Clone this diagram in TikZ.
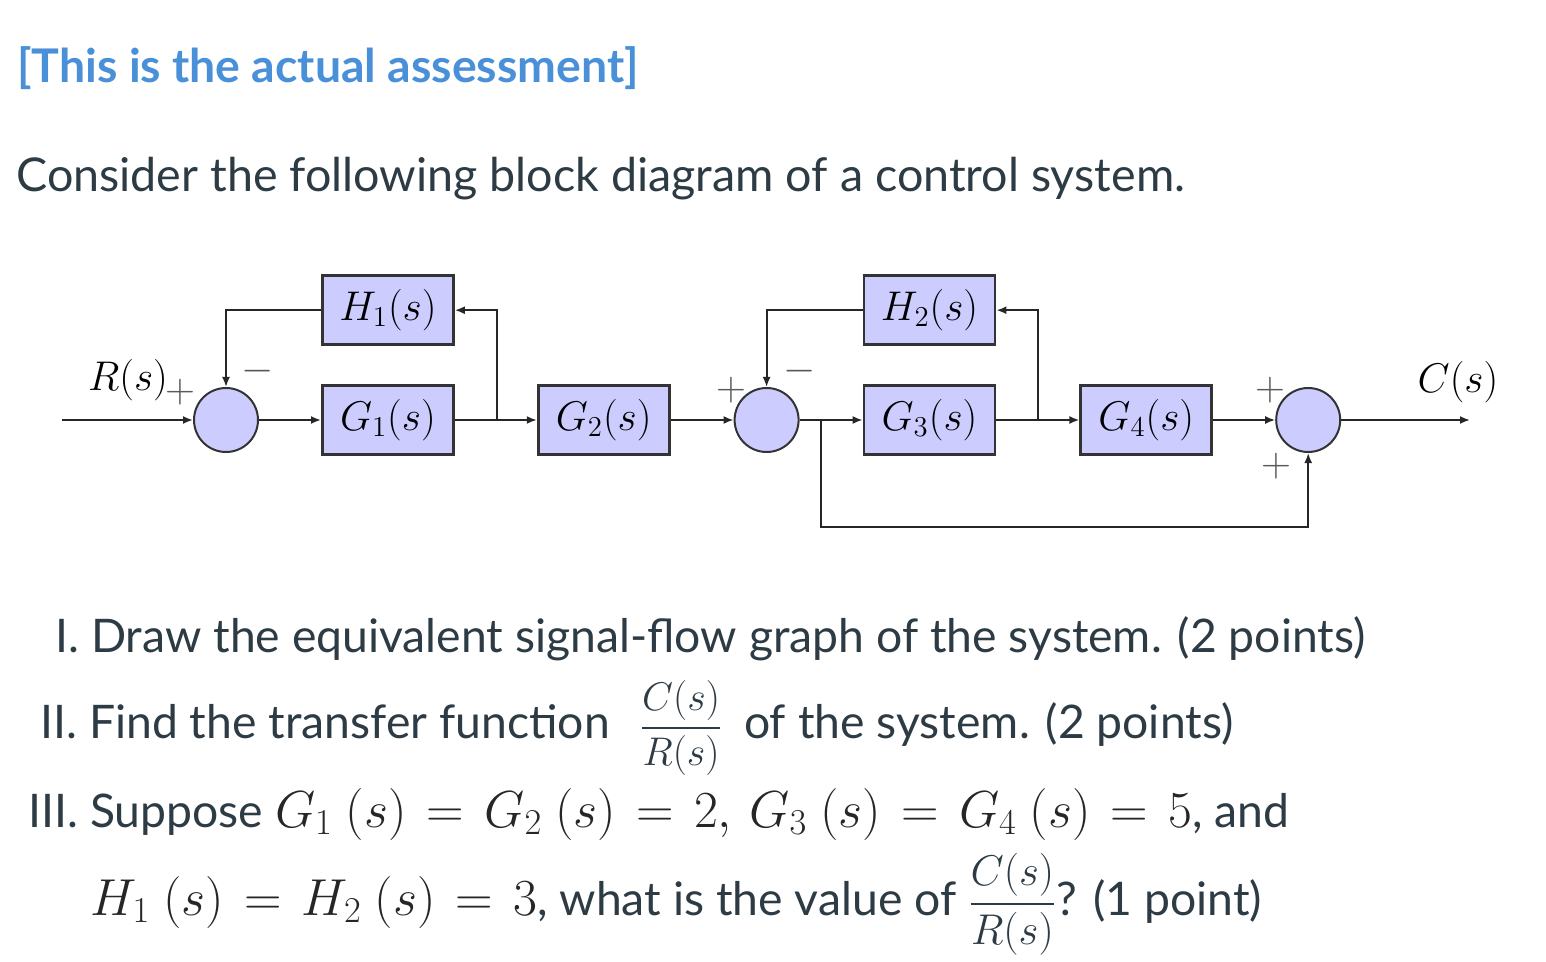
\RequirePackage{fix-cm}
\documentclass[tikz,border=0pt]{standalone}
\usepackage{amsmath}
\usepackage{fontspec}
\setmainfont{Lato}
\usetikzlibrary{arrows.meta, positioning}
\definecolor{canvastext}{RGB}{45,59,69}
\definecolor{headblue}{RGB}{74,144,217}
\definecolor{blockfill}{RGB}{204,204,255}
\newcommand{\qmath}[1]{{\fontsize{26}{29}\selectfont\thickmuskip=7mu\color{black!85}$#1$}}
\newcommand{\qfrac}[1]{{\fontsize{#1}{22}\selectfont$\dfrac{C(s)}{R(s)}$}}

\begin{document}
\begin{tikzpicture}[x=0.5pt, y=-0.5pt, node distance=32pt,
    every node/.style={font=\fontsize{20.74}{24}\selectfont},
    block/.style={draw=black!80, line width=1.4pt, fill=blockfill,
                  minimum width=65.5pt, minimum height=34.5pt, inner sep=0pt},
    sum/.style={circle, draw=black!80, line width=1pt, fill=blockfill,
                minimum size=32pt, inner sep=0pt},
    arr/.style={-{Latex[length=5pt, width=4pt]}, line width=0.95pt, draw=black!85},
    sgn/.style={font=\fontsize{20.74}{21}\selectfont, text=black!65, inner sep=0pt},
    txt/.style={anchor=base west, inner sep=0pt, text=canvastext,
                font=\fontsize{23.15}{27}\selectfont}]
    \useasboundingbox (0,0) rectangle (1546,962);

    % heading and question text
    \node[txt, text=headblue, font=\bfseries\fontsize{23.2}{27}\selectfont] (title) at (17,83)
        {[This is the actual assessment]};
    \node[txt, font=\fontsize{23.3}{27}\selectfont] (intro) at (16,192)
        {Consider the following block diagram of a control system.};

    % forward path
    \node[sum] (sum1) at (226,420) {};
    \node[block, right=31pt of sum1] (g1) {$G_1(s)$};
    \node[block, right=41pt of g1] (g2) {$G_2(s)$};
    \node[sum, right=31.5pt of g2] (sum2) {};
    \node[block, right=31.5pt of sum2] (g3) {$G_3(s)$};
    \node[block, right=41.5pt of g3] (g4) {$G_4(s)$};
    \node[sum, right=31pt of g4] (sum3) {};
    \node[block, above=19pt of g1] (h1) {$H_1(s)$};
    \node[block, above=19pt of g3] (h2) {$H_2(s)$};

    \coordinate (in) at (62,420);
    \coordinate (out) at (1470,420);
    \coordinate[right=21pt of g1] (b1);
    \coordinate[right=21pt of g3] (b2);
    \coordinate[right=10.5pt of sum2] (b3);

    \draw[arr] (in) -- (sum1);
    \draw[arr] (sum1) -- (g1);
    \draw[arr] (g1) -- (g2);
    \draw[arr] (g2) -- (sum2);
    \draw[arr] (sum2) -- (g3);
    \draw[arr] (g3) -- (g4);
    \draw[arr] (g4) -- (sum3);
    \draw[arr] (sum3) -- (out);
    \draw[arr] (b1) |- (h1);
    \draw[arr] (h1) -| (sum1);
    \draw[arr] (b2) |- (h2);
    \draw[arr] (h2) -| (sum2);
    \draw[arr] (b3) -- ++(0,107) -| (sum3);

    % signals and signs
    \node (rlab) at (128,380) {$R(s)$};
    \node (clab) at (1458,382) {$C(s)$};
    \node[sgn] (p1) at (180,392) {$+$};
    \node[sgn] (m1) at (258,371) {$-$};
    \node[sgn] (p2) at (731,390) {$+$};
    \node[sgn] (m2) at (800,371) {$-$};
    \node[sgn] (p3) at (1270,390) {$+$};
    \node[sgn] (p4) at (1276,466) {$+$};

    % questions
    \node[txt] (q1) at (55,652) {I. Draw the equivalent signal-flow graph of the system. (2 points)};
    \node[txt] (q2) at (40,738)
        {II. Find the transfer function\hspace{15pt}\qfrac{20}\hspace{5pt} of the system. (2 points)};
    \node[txt] (q3) at (28,827)
        {III. Suppose \qmath{G_1\mkern4.5mu(s)=G_2\mkern4.5mu(s)=2,\mkern3mu G_3\mkern4.5mu(s)=G_4\mkern4.5mu(s)=5}, and};
    \node[txt] (q4) at (90,915)
        {\qmath{H_1\mkern4.5mu(s)=H_2\mkern4.5mu(s)=3}, what is the value of\hspace{6pt}\qfrac{21.5}? (1 point)};
\end{tikzpicture}
\end{document}
